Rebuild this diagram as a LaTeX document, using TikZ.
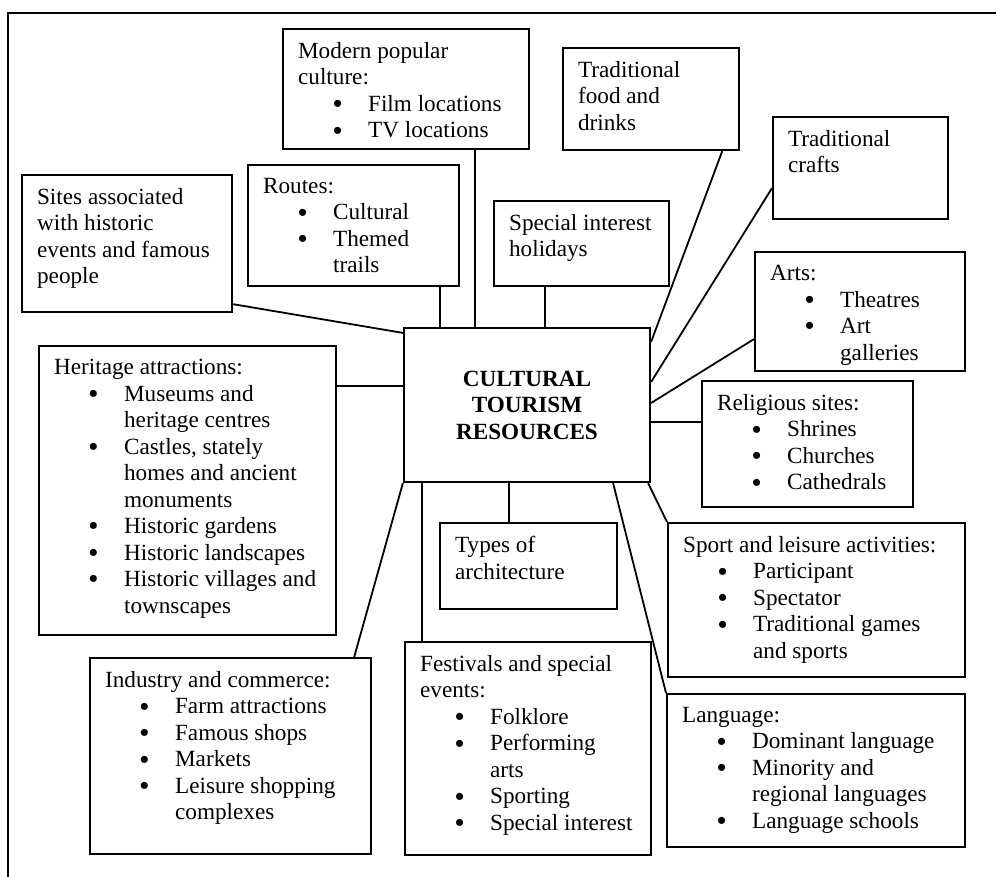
\documentclass[tikz,border=0pt]{standalone}
\usepackage{fontspec}
\setmainfont{Liberation Serif}
\newcommand{\bul}{\raisebox{-0.6pt}{\fontsize{13}{13}\selectfont\bfseries\textbullet}}
\newcommand{\itm}[1]{\par{\leftskip=35pt\noindent\llap{\bul\hspace{13pt}}#1\par}}
\newcommand{\rbox}[3]{\parbox[c][\dimexpr #2pt/2-13.2pt\relax][t]{\dimexpr #1pt/2-15pt\relax}{#3}}
\begin{document}
\begin{tikzpicture}[x=0.5pt,y=-0.5pt,
  res/.style={draw, line width=1.1pt, anchor=north west, inner xsep=7.5pt, inner ysep=6.6pt,
    font=\fontsize{11.6}{13.25}\selectfont},
  link/.style={line width=0.9pt}]
  \useasboundingbox (0,0) rectangle (996,877);
  \draw[line width=0.9pt] (996,13) -- (8,13) -- (8,877);

  % centre
  \node[draw, line width=1.1pt, minimum width=123pt, minimum height=77pt, align=center,
    font=\fontsize{11.6}{13.25}\selectfont\bfseries] (centre) at (527,405)
    {CULTURAL\\TOURISM\\RESOURCES};

  % boxes round it
  \node[res] (modern) at (282,28) {\rbox{246}{120}{Modern popular\\culture:
    \itm{Film locations}\itm{TV locations}}};
  \node[res] (food) at (562,47) {\rbox{176}{102}{Traditional\\food and\\drinks}};
  \node[res] (crafts) at (772,116) {\rbox{175}{102}{Traditional\\crafts}};
  \node[res] (special) at (493,200) {\rbox{175}{85}{Special interest\\holidays}};
  \node[res] (sites) at (21,174) {\rbox{210}{137}{Sites associated\\with historic\\events and famous\\people}};
  \node[res] (routes) at (247,164) {\rbox{211}{121}{Routes:
    \itm{Cultural}\itm{Themed\\trails}}};
  \node[res] (arts) at (754,251) {\rbox{210}{119}{Arts:
    \itm{Theatres}\itm{Art\\galleries}}};
  \node[res] (heritage) at (38,345) {\rbox{297}{289}{Heritage attractions:
    \itm{Museums and\\heritage centres}
    \itm{Castles, stately\\homes and ancient\\monuments}
    \itm{Historic gardens}
    \itm{Historic landscapes}
    \itm{Historic villages and\\townscapes}}};
  \node[res] (religious) at (701,380) {\rbox{211}{126}{Religious sites:
    \itm{Shrines}\itm{Churches}\itm{Cathedrals}}};
  \node[res] (types) at (439,522) {\rbox{177}{86}{Types of\\architecture}};
  \node[res] (sport) at (667,522) {\rbox{297}{154}{Sport and leisure activities:
    \itm{Participant}\itm{Spectator}\itm{Traditional games\\and sports}}};
  \node[res] (industry) at (89,657) {\rbox{281}{196}{Industry and commerce:
    \itm{Farm attractions}\itm{Famous shops}\itm{Markets}
    \itm{Leisure shopping\\complexes}}};
  \node[res] (festivals) at (404,641) {\rbox{246}{213}{Festivals and special\\events:
    \itm{Folklore}\itm{Performing\\arts}\itm{Sporting}\itm{Special interest}}};
  \node[res] (language) at (666,693) {\rbox{298}{153}{Language:
    \itm{Dominant language}\itm{Minority and\\regional languages}
    \itm{Language schools}}};

  % straight links
  \coordinate (vm) at (475,0);
  \coordinate (vr) at (440,0);
  \coordinate (vs) at (545,0);
  \coordinate (vt) at (509,0);
  \coordinate (vf) at (422,0);
  \coordinate (hh) at (0,386);
  \coordinate (hg) at (0,422);
  \draw[link] (modern.south -| vm) -- (centre.north -| vm);
  \draw[link] (routes.south -| vr) -- (centre.north -| vr);
  \draw[link] (special.south -| vs) -- (centre.north -| vs);
  \draw[link] (centre.south -| vt) -- (types.north -| vt);
  \draw[link] (centre.south -| vf) -- (festivals.north -| vf);
  \draw[link] (heritage.east |- hh) -- (centre.west |- hh);
  \draw[link] (centre.east |- hg) -- (religious.west |- hg);

  % slanted links
  \draw[link] ([yshift=4.5pt]sites.south east) -- ([yshift=-3pt]centre.north west);
  \draw[link] ([xshift=-9pt]food.south east) -- ([yshift=-7.5pt]centre.north east);
  \draw[link] ([yshift=-10pt]crafts.west) -- ([yshift=11.5pt]centre.east);
  \draw[link] ([yshift=-13.75pt]arts.west) -- ([yshift=1pt]centre.east);
  \draw[link] ([xshift=-1.5pt]centre.south east) -- (sport.north west);
  \draw[link] ([xshift=-19pt]centre.south east) -- (language.north west);
  \draw[link] (centre.south west) -- ([xshift=-9pt]industry.north east);
\end{tikzpicture}
\end{document}
